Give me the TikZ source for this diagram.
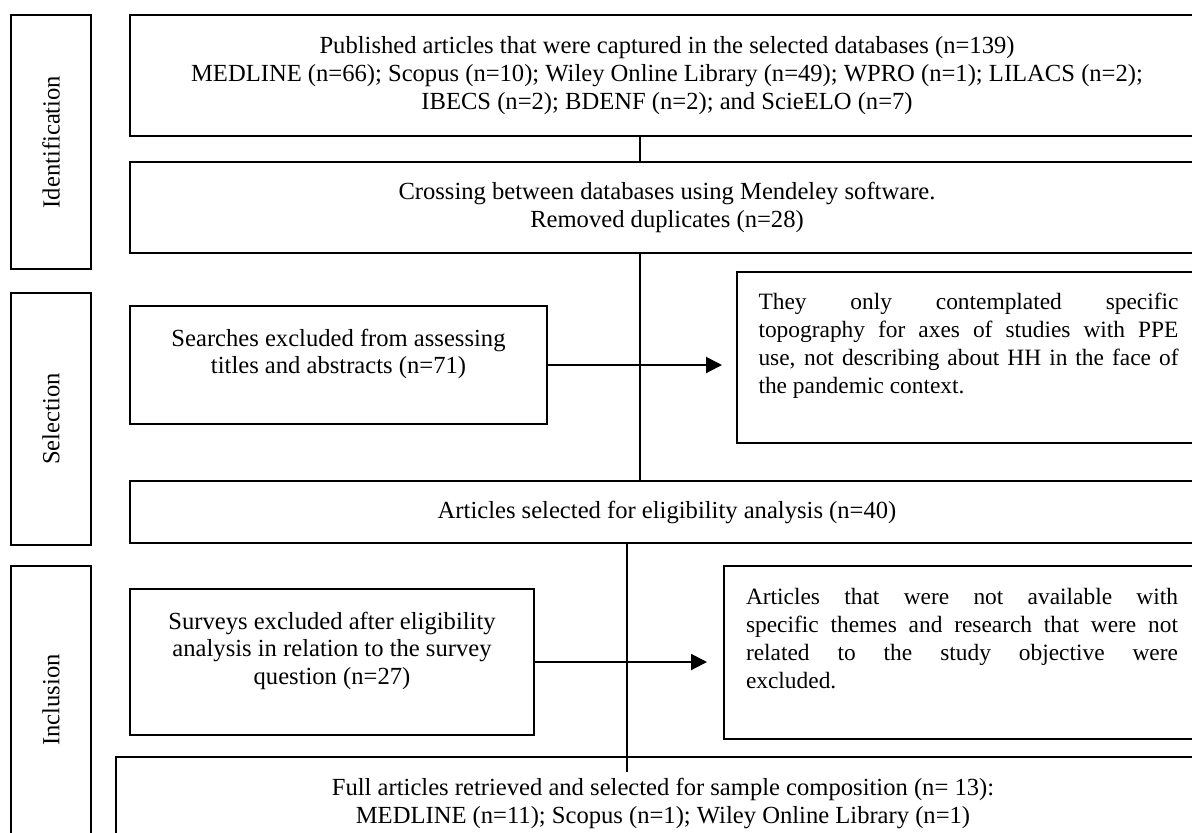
\documentclass[tikz,border=0pt]{standalone}
\usepackage{fontspec}
\setmainfont{Liberation Serif}
\usetikzlibrary{
arrows.meta,
calc,
positioning,
shapes
}
\tikzset{>={Triangle[length=8pt,width=8pt]}}

\begin{document}
\begin{tikzpicture}[x=0.5pt, y=-0.5pt, line width=1pt, font=\fontsize{12.3}{13.8}\selectfont,
	box/.style={draw, line width=1pt, inner sep=0pt, align=center},
	note/.style={draw, line width=1pt, align=justify, font=\fontsize{11.7}{14}\selectfont},
	stage/.style={draw, line width=1pt, rotate=90, minimum height=40pt}]
		\useasboundingbox (0,0) rectangle (1192,832);
		\clip (0,0) rectangle (1192,832);
		% stages on the left
		\node[stage,minimum width=127pt] (identification) at (51,142) {Identification};
		\node[stage,minimum width=126pt] (selection) at (51,419) {Selection};
		\node[stage,minimum width=134pt] (inclusion) at (51,700) {Inclusion};
		
		% main column
		\node[box,minimum width=537pt,minimum height=60.5pt] (published) at (667,75.5) {Published articles that were captured in the selected databases (n=139)\\MEDLINE (n=66); Scopus (n=10); Wiley Online Library (n=49); WPRO (n=1); LILACS (n=2);\\IBECS (n=2); BDENF (n=2); and ScieELO (n=7)};
		\node[box,minimum width=537pt,minimum height=45.5pt] (duplicates) at (667,207.5) {Crossing between databases using Mendeley software.\\Removed duplicates (n=28)};
		\node[box,minimum width=208.5pt,minimum height=59pt] (searches) at (338.5,365) {Searches excluded from assessing\\titles and abstracts (n=71)\\ \mbox{}};
		\node[note,minimum height=85.5pt,text width=210pt,inner xsep=10.75pt] (topography) at (968.5,357.5) {They only contemplated specific\linebreak topography for axes of studies with PPE\linebreak use, not describing about HH in the face of\linebreak the pandemic context.\par\mbox{}};
		\node[box,minimum width=537pt,minimum height=31pt] (selected) at (667,512) {Articles selected for eligibility analysis (n=40)};
		\node[box,minimum width=202pt,minimum height=73pt] (surveys) at (332,662) {Surveys excluded after eligibility\\analysis in relation to the survey\\question (n=27)\\ \mbox{}};
		\node[note,minimum height=86.5pt,text width=216pt,inner xsep=11pt] (themes) at (962,652.5) {Articles that were not available with\linebreak specific themes and research that were not\linebreak related to the study objective were\linebreak excluded.\par\mbox{}};
		\node[box,minimum width=547pt,minimum height=46.5pt] (retrieved) at (663,803.5) {Full articles retrieved and selected for sample composition (n= 13):\\MEDLINE (n=11); Scopus (n=1); Wiley Online Library (n=1)};
		
		\coordinate (upper) at (640,0);
		\coordinate (lower) at (627,0);
		\draw (published.south -| upper) -- (duplicates.north -| upper);
		\draw (duplicates.south -| upper) -- (selected.north -| upper);
		\draw[->] (searches.east) -- ($(topography.west |- searches.east)+(-7pt,0)$);
		\draw (selected.south -| lower) -- ($(retrieved.north -| lower)+(0,-8pt)$);
		\draw[->] (surveys.east) -- ($(themes.west |- surveys.east)+(-8pt,0)$);
	\end{tikzpicture}
\end{document}
